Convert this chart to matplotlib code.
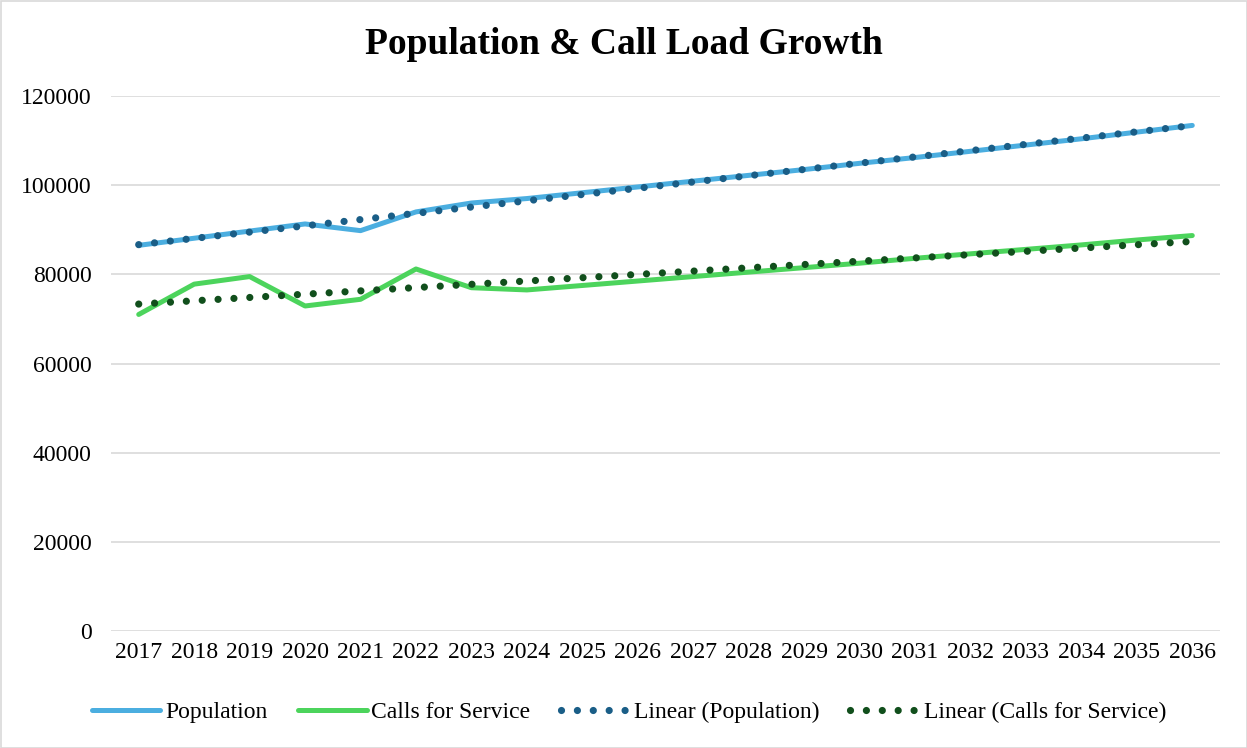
import numpy as np
import matplotlib
matplotlib.use("Agg")
import matplotlib.pyplot as plt
from matplotlib.patches import Rectangle

years = [str(y) for y in range(2017, 2037)]
population = [86500, 88100, 89700, 91300, 89800, 94000, 96000, 97000,
              98300, 99600, 100900, 102200, 103500, 104900, 106200,
              107600, 109000, 110400, 111900, 113400]
calls = [71000, 77800, 79500, 72900, 74400, 81200, 77000, 76500,
         77500, 78500, 79500, 80500, 81500, 82500, 83600, 84600,
         85600, 86600, 87700, 88700]

plt.rcParams['font.family'] = ['Liberation Serif', 'DejaVu Serif']

x = np.arange(len(years))
pop_fit = np.polyval(np.polyfit(x, population, 1), x)
calls_fit = np.polyval(np.polyfit(x, calls, 1), x)

fig = plt.figure(figsize=(12.47, 7.48), dpi=100)
ax = fig.add_axes([111 / 1247, 1 - 631 / 748, (1220 - 111) / 1247, (631 - 96) / 748])

c_pop = '#4BAEE0'
c_calls = '#4CD45C'
c_pop_fit = '#1A5E87'
c_calls_fit = '#114F1C'

dot_lw = 5.2
dot_pattern = (0.001, 2.2)

ax.plot(x, population, color=c_pop, lw=3.6, solid_capstyle='round',
        solid_joinstyle='round', label='Population', zorder=3)
ax.plot(x, calls, color=c_calls, lw=3.6, solid_capstyle='round',
        solid_joinstyle='round', label='Calls for Service', zorder=3)
ax.plot(x, pop_fit, color=c_pop_fit, lw=dot_lw, dashes=dot_pattern,
        dash_capstyle='round', label='Linear (Population)', zorder=4)
ax.plot(x, calls_fit, color=c_calls_fit, lw=dot_lw, dashes=dot_pattern,
        dash_capstyle='round', label='Linear (Calls for Service)', zorder=4)

ax.set_xlim(-0.5, len(years) - 0.5)
ax.set_ylim(0, 120000)
ax.set_yticks(np.arange(0, 120001, 20000))
ax.set_yticklabels([str(v) for v in range(0, 120001, 20000)])
ax.set_xticks(x)
ax.set_xticklabels(years)
ax.tick_params(axis='both', length=0, labelsize=17, colors='#000000')
ax.tick_params(axis='y', pad=14)
ax.tick_params(axis='x', pad=8)
ax.grid(axis='y', color='#D9D9D9', lw=1.2)
ax.set_axisbelow(True)
for s in ax.spines.values():
    s.set_visible(False)

fig.text(624 / 1247, 1 - 44 / 748, 'Population & Call Load Growth',
         ha='center', va='center', fontsize=27, fontweight='bold')

fig.legend(loc='center', bbox_to_anchor=(629 / 1247, 1 - 712 / 748),
           ncol=4, frameon=False, fontsize=17, handlelength=2.9,
           handletextpad=0.2, columnspacing=1.3)

fig.patches.append(Rectangle((0.5 / 1247, 0.5 / 748), 1 - 1 / 1247, 1 - 1 / 748,
                             transform=fig.transFigure, fill=False,
                             edgecolor='#D9D9D9', lw=1.2))

fig.savefig('out.png', dpi=100)
